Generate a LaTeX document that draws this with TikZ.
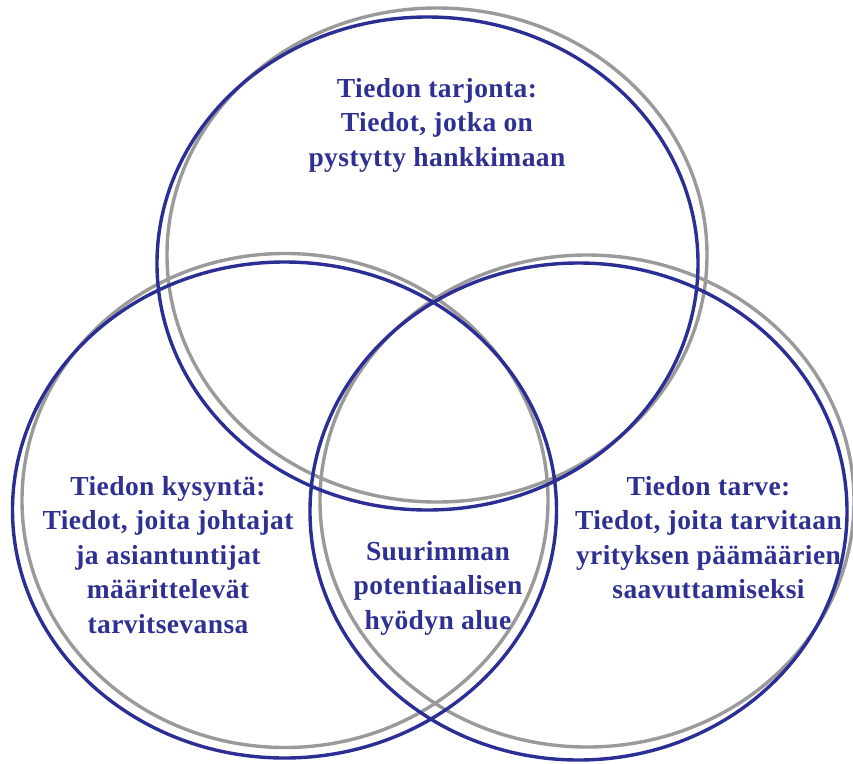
\documentclass[tikz,border=0pt]{standalone}
\usepackage{fontspec}
\setmainfont{Liberation Serif}
\newfontfamily\labelfont[LetterSpace=1.5]{Liberation Serif}
\definecolor{ringblue}{HTML}{2B2E94}
\definecolor{ringgray}{HTML}{9A9A9A}
\definecolor{labelblue}{HTML}{2E3192}
\begin{document}
\begin{tikzpicture}[x=1pt,y=-1pt,
  ring/.style={line width=3.4pt},
  grayring/.style={ring,draw=ringgray},
  bluering/.style={ring,draw=ringblue},
  label/.style={text=labelblue,font=\labelfont\fontsize{27.5}{34.5}\selectfont\bfseries,
    align=center,inner sep=0pt,anchor=north}]
\useasboundingbox[fill=white] (0,0) rectangle (853,763);
% grey rings, slightly shifted behind the blue ones
\draw[grayring] (437,255) ellipse [x radius=270pt, y radius=247pt];
\draw[grayring] (285,500.5) ellipse [x radius=263pt, y radius=247pt];
\draw[grayring] (587,501) ellipse [x radius=267pt, y radius=246pt];
% blue rings
\draw[bluering] (427.5,263.5) ellipse [x radius=270.5pt, y radius=246.5pt];
\draw[bluering] (284.5,510) ellipse [x radius=272pt, y radius=248pt];
\draw[bluering] (578.5,511.5) ellipse [x radius=268.5pt, y radius=248.5pt];
% labels
\node[label] (supply) at (437,78) {Tiedon tarjonta:\\Tiedot, jotka on\\pystytty hankkimaan};
\node[label] (demand) at (168,476) {Tiedon kysyntä:\\Tiedot, joita johtajat\\ja asiantuntijat\\määrittelevät\\tarvitsevansa};
\node[label] (need) at (708.5,476) {Tiedon tarve:\\Tiedot, joita tarvitaan\\yrityksen päämäärien\\saavuttamiseksi};
\node[label] (core) at (438,541) {Suurimman\\potentiaalisen\\hyödyn alue};
\end{tikzpicture}
\end{document}
